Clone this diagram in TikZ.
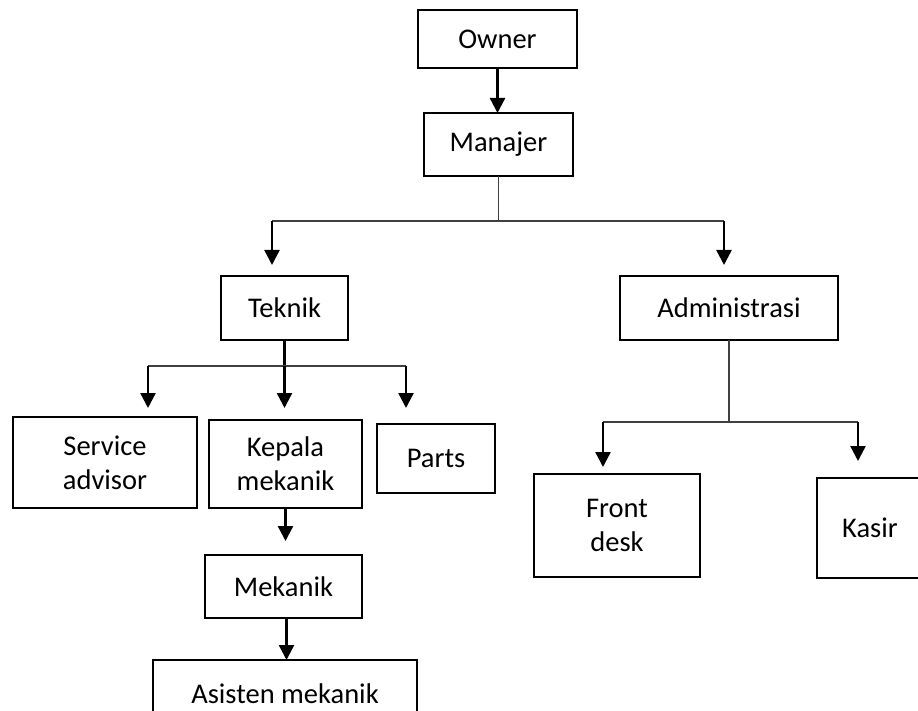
\documentclass[tikz,border=0pt]{standalone}
\usepackage{fontspec}
\setmainfont{Carlito}
\usetikzlibrary{arrows.meta}
\begin{document}
\begin{tikzpicture}[x=1pt,y=-1pt,
  box/.style={draw=black, line width=2.7pt, fill=white, inner sep=0pt, outer sep=0pt,
    align=center, font=\fontsize{28.5}{34}\selectfont, text=black},
  conn/.style={draw=black!75, line width=1.3pt},
  arr/.style={draw=black, line width=2.4pt, -{Triangle[length=15pt,width=15pt]}}]
\useasboundingbox (0,0) rectangle (918,711);
\fill[white] (0,0) rectangle (918,711);
% boxes
\node[box, minimum width=159pt, minimum height=58pt] (owner) at (497.5,39) {Owner};
\node[box, minimum width=149pt, minimum height=63pt] (manajer) at (498.5,144.5) {Manajer};
\node[box, minimum width=127pt, minimum height=64pt] (teknik) at (284.5,308) {Teknik};
\node[box, minimum width=218pt, minimum height=64pt] (admin) at (729,308) {Administrasi};
\node[box, minimum width=184pt, minimum height=91pt] (service) at (105,462.5) {Service\\advisor};
\node[box, minimum width=153pt, minimum height=88pt] (kepala) at (285.5,464) {Kepala\\mekanik};
\node[box, minimum width=118pt, minimum height=69pt] (parts) at (436,458.5) {Parts};
\node[box, minimum width=157pt, minimum height=63pt] (mekanik) at (283.5,586.5) {Mekanik};
\node[box, minimum width=264pt, minimum height=68pt] (asisten) at (285,694) {Asisten mekanik};
\node[box, minimum width=166pt, minimum height=103pt] (front) at (617,525.5) {Front\\desk};
\node[box, minimum width=106pt, minimum height=100pt] (kasir) at (870,528) {Kasir};
% junction coordinates
\coordinate (mj) at (498.5,221);
\coordinate (ml) at (272,221);
\coordinate (mr) at (724,221);
\coordinate (tj) at (284.5,366);
\coordinate (tl) at (148,366);
\coordinate (tr) at (406,366);
\coordinate (aj) at (729,422);
\coordinate (al) at (603,422);
\coordinate (ar) at (858,422);
% connectors
\draw[arr] (owner.south) -- (owner.south |- manajer.north);
\draw[conn] (manajer.south) -- (mj);
\draw[conn] (ml) -- (mr);
\draw[arr, shorten >=11pt] (ml) -- (ml |- teknik.north);
\draw[arr, shorten >=11pt] (mr) -- (mr |- admin.north);
\draw[line width=2.4pt] (teknik.south) -- (tj);
\draw[conn] (tl) -- (tr);
\draw[arr, shorten >=9pt] (tl) -- (tl |- service.north);
\draw[arr, shorten >=12pt] (tj) -- (tj |- kepala.north);
\draw[arr, shorten >=16pt] (tr) -- (tr |- parts.north);
\draw[arr, shorten >=14pt] (kepala.south) -- (kepala.south |- mekanik.north);
\draw[arr] ([xshift=3pt]mekanik.south) -- ([xshift=3pt]mekanik.south |- asisten.north);
\draw[conn] (admin.south) -- (aj);
\draw[conn] (al) -- (ar);
\draw[arr, shorten >=7pt] (al) -- (al |- front.north);
\draw[arr, shorten >=17pt] (ar) -- (ar |- kasir.north);
\end{tikzpicture}
\end{document}
